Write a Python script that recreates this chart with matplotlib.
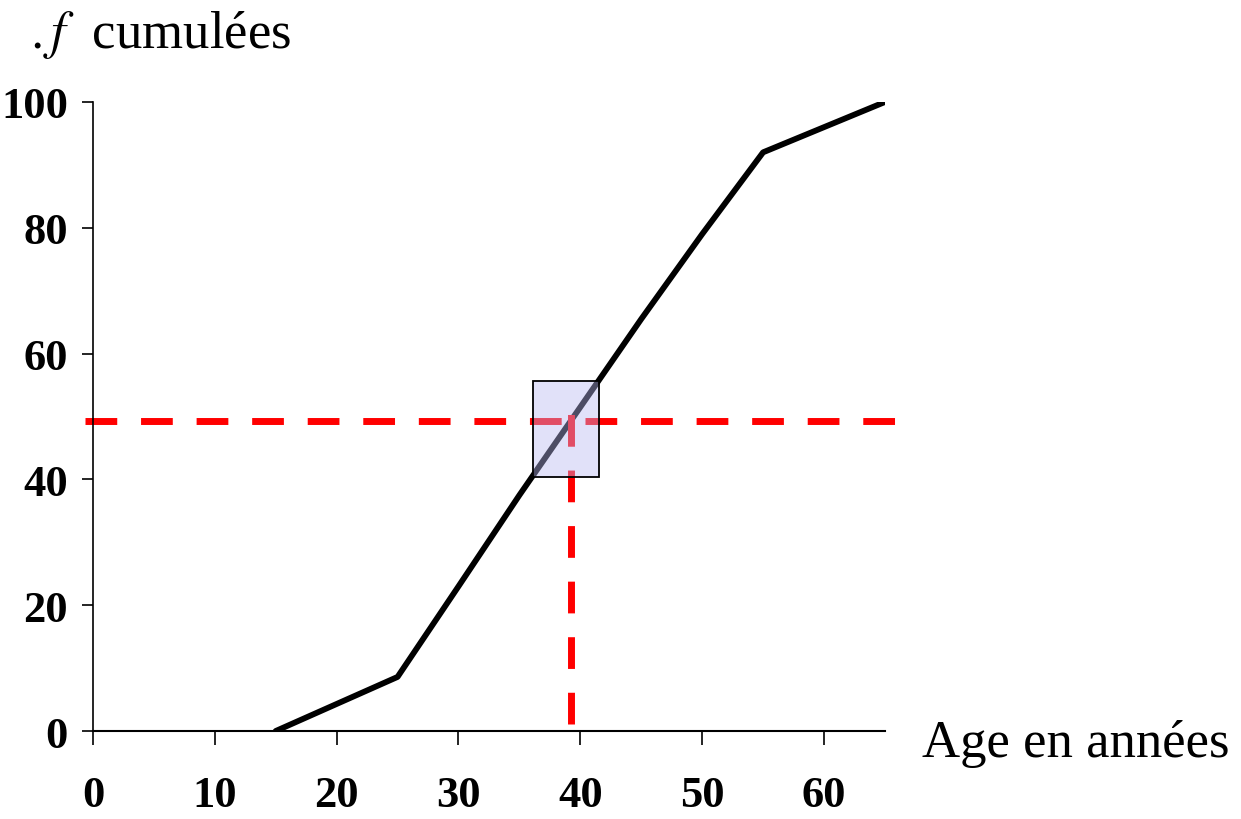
import matplotlib.pyplot as plt
import matplotlib.patches as mpatches

plt.rcParams['font.family'] = ['Liberation Serif', 'DejaVu Serif']
plt.rcParams['mathtext.fontset'] = 'stix'

# cumulative frequency (%) by age
ages = [15, 25, 30, 35, 40, 45, 50, 55, 65]
cum_freq = [0, 8.6, 23, 37.5, 51.5, 65.5, 79, 92, 100]

# median reading: 50 % -> age
median_age = 39.2
median_freq = 49.3

# zoom window around the median
zoom_x = (36.1, 41.5)
zoom_y = (40.4, 55.6)

xticks = [0, 10, 20, 30, 40, 50, 60]
yticks = [0, 20, 40, 60, 80, 100]

fig = plt.figure(figsize=(12.41, 8.2), dpi=100)
ax = fig.add_axes([0.0749, 0.1073, 0.6382, 0.7671])

ax.plot(ages, cum_freq, color='black', linewidth=4.2,
        solid_capstyle='round', zorder=2)

# dashed guides for the median
ax.plot([-0.66, 66.4], [median_freq, median_freq], color='red',
        linewidth=5, dashes=(4.57, 3.43), dash_capstyle='butt',
        clip_on=False, zorder=2.5)
ax.plot([median_age, median_age], [1.1, 50.7], color='red',
        linewidth=5, dashes=(4.57, 3.43), dash_capstyle='butt',
        clip_on=False, zorder=2.5)

box = mpatches.Rectangle((zoom_x[0], zoom_y[0]), zoom_x[1] - zoom_x[0],
                         zoom_y[1] - zoom_y[0], facecolor=(0.72, 0.72, 0.95, 0.42),
                         edgecolor='black', linewidth=1.3, zorder=3)
ax.add_patch(box)

ax.set_xlim(0, 65)
ax.set_ylim(0, 100)
ax.set_xticks(xticks)
ax.set_yticks(yticks)
ax.set_xticklabels([str(t) for t in xticks], fontsize=32, fontweight='bold')
ax.set_yticklabels([str(t) for t in yticks], fontsize=32, fontweight='bold')

for s in ['top', 'right']:
    ax.spines[s].set_visible(False)
ax.spines['left'].set_linewidth(1.2)
ax.spines['bottom'].set_linewidth(1.5)
ax.tick_params(axis='x', direction='out', length=10, width=1.2, pad=22)
ax.tick_params(axis='y', direction='out', length=8, width=1.2, pad=10)

fig.text(30 / 1241, 1 - 48 / 820, r'$.f$  cumulées', fontsize=38,
         va='baseline', ha='left')
fig.text(922 / 1241, 1 - 757 / 820, 'Age en années', fontsize=38,
         va='baseline', ha='left')

fig.savefig('out.png', dpi=100)
